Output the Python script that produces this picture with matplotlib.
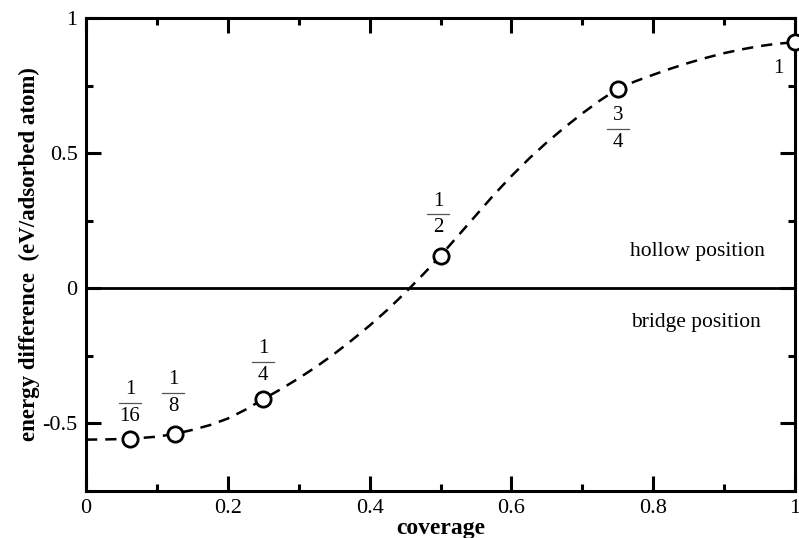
import matplotlib
matplotlib.use("Agg")
import matplotlib.pyplot as plt
from matplotlib.ticker import MultipleLocator, FormatStrFormatter
from matplotlib.transforms import ScaledTranslation, offset_copy

plt.rcParams['font.family'] = ['Liberation Serif', 'DejaVu Serif']
plt.rcParams['axes.unicode_minus'] = False

# computed coverages and energy differences
coverage = [1/16, 1/8, 1/4, 1/2, 3/4, 1.0]
energy = [-0.557, -0.539, -0.410, 0.120, 0.738, 0.910]
numerators = ['1', '1', '1', '1', '3', None]
denominators = ['16', '8', '4', '2', '4', None]
plain_labels = [None, None, None, None, None, '1']
label_x = [0.062, 0.123, 0.250, 0.497, 0.750, 0.976]
label_y = [-0.424, -0.388, -0.273, 0.273, 0.590, 0.815]

# fitted curve
fit_x = [0.0, 0.03, 0.0625, 0.1, 0.125, 0.15, 0.175, 0.2, 0.225, 0.25, 0.275,
         0.3, 0.325, 0.35, 0.375, 0.4, 0.425, 0.45, 0.475, 0.5, 0.525, 0.55,
         0.575, 0.6, 0.625, 0.65, 0.675, 0.7, 0.725, 0.75, 0.775, 0.8, 0.825,
         0.85, 0.875, 0.9, 0.925, 0.95, 0.975, 1.0]
fit_y = [-0.560, -0.559, -0.557, -0.549, -0.539, -0.524, -0.506, -0.482, -0.449,
         -0.410, -0.373, -0.333, -0.290, -0.243, -0.192, -0.138, -0.080, -0.017,
         0.050, 0.120, 0.195, 0.270, 0.345, 0.415, 0.480, 0.540, 0.595, 0.647,
         0.695, 0.738, 0.766, 0.790, 0.813, 0.834, 0.853, 0.870, 0.884, 0.896,
         0.905, 0.910]

fig = plt.figure(figsize=(7.99, 5.38), dpi=100)
ax = fig.add_axes([86/799, 47/538, 709/799, 473/538])

ax.axhline(0, color='black', lw=2.0, zorder=2)
ax.plot(fit_x, fit_y, color='black', lw=1.8, ls=(0, (4.5, 3.2)), zorder=3)
ax.plot(coverage, energy, 'o', ms=11, mfc='white', mec='black', mew=2.0,
        zorder=4, clip_on=False)

frac_fs = 15
for num, den, plain, lx, ly in zip(numerators, denominators, plain_labels,
                                   label_x, label_y):
    if plain is not None:
        ax.text(lx, ly, plain, ha='center', va='center', fontsize=frac_fs)
        continue
    tnum = offset_copy(ax.transData, fig=fig, x=0, y=9.5, units='points')
    tden = offset_copy(ax.transData, fig=fig, x=0, y=-9.5, units='points')
    ax.text(lx, ly, num, ha='center', va='center', fontsize=frac_fs,
            transform=tnum)
    ax.text(lx, ly, den, ha='center', va='center', fontsize=frac_fs,
            transform=tden)
    tbar = fig.dpi_scale_trans + ScaledTranslation(lx, ly, ax.transData)
    ax.plot([-0.11, 0.11], [0.0, 0.0], color='#555555', lw=0.9,
            transform=tbar, clip_on=False)

ax.text(0.863, 0.137, 'hollow position', ha='center', va='center', fontsize=15.5)
ax.text(0.860, -0.125, 'bridge position', ha='center', va='center', fontsize=15.5)

ax.set_xlim(0, 1)
ax.set_ylim(-0.75, 1)
ax.xaxis.set_major_locator(MultipleLocator(0.2))
ax.xaxis.set_minor_locator(MultipleLocator(0.1))
ax.yaxis.set_major_locator(MultipleLocator(0.5))
ax.yaxis.set_minor_locator(MultipleLocator(0.25))
ax.xaxis.set_major_formatter(FormatStrFormatter('%g'))
ax.yaxis.set_major_formatter(FormatStrFormatter('%g'))

for s in ax.spines.values():
    s.set_linewidth(2.2)
ax.tick_params(which='both', direction='in', top=True, right=True, width=2.2,
               labelsize=16, pad=6)
ax.tick_params(which='major', length=11)
ax.tick_params(which='minor', length=5)

ax.set_xlabel('coverage', fontsize=17, fontweight='bold', labelpad=0)
ax.set_ylabel('energy difference  (eV/adsorbed atom)', fontsize=16.5,
              fontweight='bold', labelpad=2)

fig.savefig('out.png', dpi=100)
